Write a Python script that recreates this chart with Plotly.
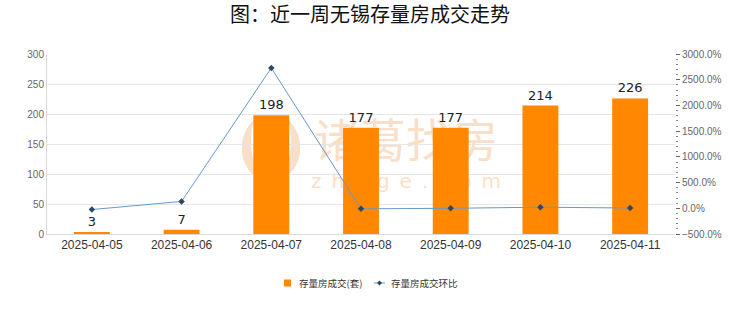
import plotly.graph_objects as go

dates = ["2025-04-05", "2025-04-06", "2025-04-07", "2025-04-08", "2025-04-09", "2025-04-10", "2025-04-11"]
volumes = [3, 7, 198, 177, 177, 214, 226]
mom_pct = [-25.0, 133.3, 2728.6, -10.6, 0.0, 20.9, 5.6]

title_text = "图：近一周无锡存量房成交走势"
bar_name = "存量房成交(套)"
line_name = "存量房成交环比"

bar_color = "#FF8800"
line_color = "#6a98c8"
marker_color = "#2c4866"

# plot area geometry in pixels (for watermark / legend placement only)
PX_L, PX_R, PX_T, PX_B = 47, 675, 54, 234


def fx(px):
    return (px - PX_L) / (PX_R - PX_L)


def fy(py):
    return (PX_B - py) / (PX_B - PX_T)


def P(px, py):
    return f"{fx(px):.4f},{fy(py):.4f}"


wm_color = "#fadfc8"

fig = go.Figure()
fig.add_bar(
    x=dates, y=volumes, name=bar_name,
    marker=dict(color=bar_color, line=dict(width=0)),
    width=0.4,
    text=volumes, textposition="outside",
    textfont=dict(size=13, color="#222222", family="DejaVu Sans"),
    cliponaxis=False, showlegend=False,
)
fig.add_scatter(
    x=dates, y=mom_pct, name=line_name, yaxis="y2",
    mode="lines+markers",
    line=dict(color=line_color, width=1),
    marker=dict(symbol="diamond", size=5, color=marker_color),
    showlegend=False,
)

shapes = [
    # watermark logo
    dict(type="path", xref="paper", yref="paper", layer="below", line=dict(width=0), fillcolor=wm_color,
         path=f"M {P(266,182)} C {P(236,172)} {P(236,135)} {P(254,120)} C {P(248,140)} {P(250,166)} {P(266,182)} Z"),
    dict(type="path", xref="paper", yref="paper", layer="below", line=dict(width=0), fillcolor=wm_color,
         path=f"M {P(276,182)} C {P(306,172)} {P(306,135)} {P(288,120)} C {P(294,140)} {P(292,166)} {P(276,182)} Z"),
    dict(type="path", xref="paper", yref="paper", layer="below", line=dict(width=0), fillcolor=wm_color,
         path=f"M {P(271,178)} C {P(259,166)} {P(259,146)} {P(273,126)} C {P(269,146)} {P(285,161)} {P(271,178)} Z"),
    # watermark text
    dict(type="rect", xref="paper", yref="paper", layer="below", line=dict(width=0), fillcolor="rgba(0,0,0,0)",
         x0=fx(300), x1=fx(512), y0=fy(168), y1=fy(120),
         label=dict(text="诸葛找房", textposition="middle center",
                    font=dict(size=46, color=wm_color, family="Noto Sans CJK SC"))),
    dict(type="rect", xref="paper", yref="paper", layer="below", line=dict(width=0), fillcolor="rgba(0,0,0,0)",
         x0=fx(300), x1=fx(512), y0=fy(192), y1=fy(168),
         label=dict(text="z\u2002h\u2002u\u2002g\u2002e\u2002.\u2002c\u2002o\u2002m", textposition="middle center",
                    font=dict(size=20, color=wm_color, family="DejaVu Sans"))),
    # legend symbols
    dict(type="rect", xref="paper", yref="paper", line=dict(width=0), fillcolor=bar_color,
         x0=fx(284), x1=fx(291), y0=fy(286.5), y1=fy(279.5)),
    dict(type="line", xref="paper", yref="paper", line=dict(width=1, color=line_color),
         x0=fx(374), x1=fx(385), y0=fy(283), y1=fy(283)),
    dict(type="path", xref="paper", yref="paper", line=dict(width=0), fillcolor=marker_color,
         path=f"M {P(379.5,280.5)} L {P(382,283)} L {P(379.5,285.5)} L {P(377,283)} Z"),
]

annotations = [
    dict(text=bar_name, xref="paper", yref="paper", x=fx(297), y=fy(283), xanchor="left", yanchor="middle",
         showarrow=False, font=dict(size=9.5, color="#333333", family="Noto Sans CJK SC")),
    dict(text=line_name, xref="paper", yref="paper", x=fx(389), y=fy(283), xanchor="left", yanchor="middle",
         showarrow=False, font=dict(size=9.5, color="#333333", family="Noto Sans CJK SC")),
]

fig.update_layout(
    width=740, height=312,
    margin=dict(l=PX_L, r=740 - PX_R, t=PX_T, b=312 - PX_B),
    paper_bgcolor="white", plot_bgcolor="rgba(0,0,0,0)",
    font=dict(family="Liberation Sans, Noto Sans CJK SC", color="#333333"),
    title=dict(text=title_text, x=0.5, xref="container", xanchor="center",
               y=1 - 15 / 312, yref="container", yanchor="middle",
               font=dict(size=20, color="#111111", family="Noto Sans CJK SC")),
    showlegend=False,
    xaxis=dict(type="category", showline=True, linecolor="#d9d9d9", linewidth=1,
               ticks="", tickfont=dict(size=12, color="#333333"), showgrid=False),
    yaxis=dict(range=[0, 300], dtick=50, showgrid=True, gridcolor="#e6e6e6",
               showline=True, linecolor="#d9d9d9", zeroline=False,
               ticks="", tickfont=dict(size=10, color="#666666")),
    yaxis2=dict(overlaying="y", side="right", range=[-500, 3000], dtick=500,
                tickformat=".1f", ticksuffix="%", showgrid=False, zeroline=False,
                showline=False, ticks="outside", ticklen=4, tickcolor="#666666",
                minor=dict(ticks="outside", ticklen=2, dtick=100, tickcolor="#888888"),
                tickfont=dict(size=10, color="#666666")),
    shapes=shapes,
    annotations=annotations,
)

fig.write_html("out.html")
